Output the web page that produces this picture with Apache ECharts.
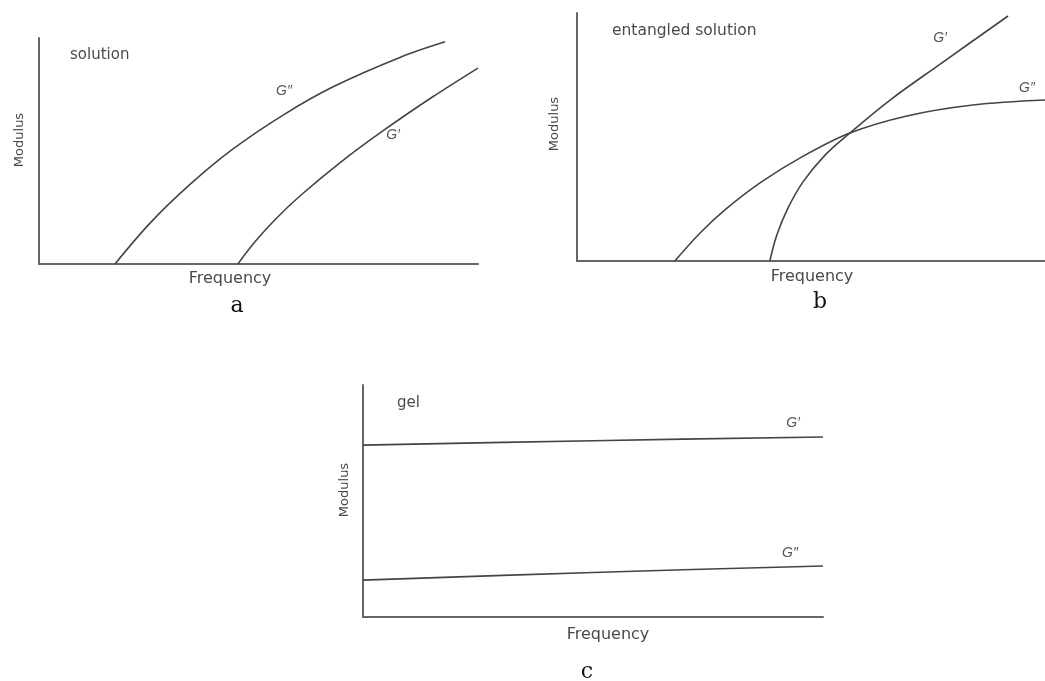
<!DOCTYPE html>
<html>
<head>
<meta charset="utf-8">
<script src="https://cdn.jsdelivr.net/npm/echarts@6/dist/echarts.min.js"></script>
<style>
html,body{margin:0;padding:0;background:#fff;}
#chart{width:1045px;height:681px;}
</style>
</head>
<body>
<div id="chart"></div>
<script>
// Panel a: solution
var solutionGpp = [[17.3,0],[25.3,18.1],[34.4,35.2],[44.2,50.9],[55.6,65.9],[67.0,78.4],[82.2,91.4],[92.5,98.3]];
var solutionGp  = [[45.3,0],[49.2,9.8],[53.8,19.7],[59.5,30.2],[68.6,44.9],[78.4,59.0],[89.7,74.0],[100,86.7]];
// Panel b: entangled solution
var entangledGpp = [[20.9,0],[26.3,11.3],[31.6,20.6],[39.1,31.5],[47.6,41.5],[58.3,51.6],[70.5,58.5],[84.6,62.9],[100,64.9]];
var entangledGp  = [[41.2,0],[42.7,10.5],[45.1,21.4],[48.3,31.9],[53.0,42.7],[58.3,51.6],[66.9,64.9],[77.6,79.4],[92.1,98.8]];
// Panel c: gel
var gelGp  = [[0,74.1],[50,76.0],[100,77.6]];
var gelGpp = [[0,15.9],[50,19.2],[100,22.0]];

var panelTitles = ['solution','entangled solution','gel'];
var panelLetters = ['a','b','c'];
var xName = 'Frequency';
var yName = 'Modulus';

var chart = echarts.init(document.getElementById('chart'));
var axisLine = {show:true, onZero:false, lineStyle:{color:'#666', width:2}};
function xa(i){return {gridIndex:i,type:'value',min:0,max:100,axisLine:axisLine,axisTick:{show:false},axisLabel:{show:false},splitLine:{show:false}};}
function ya(i){return {gridIndex:i,type:'value',min:0,max:100,axisLine:axisLine,axisTick:{show:false},axisLabel:{show:false},splitLine:{show:false}};}
function ln(i,data){return {type:'line',xAxisIndex:i,yAxisIndex:i,data:data,smooth:0.35,symbol:'none',lineStyle:{color:'#444',width:1.6},silent:true};}

var sans = 'DejaVu Sans';
var txtColor = '#4a4a4a';
function t(x,y,text,opts){
  opts = opts||{};
  return {type:'text',x:x,y:y,rotation:opts.rot||0,silent:true,
    style:{text:text,fill:opts.color||txtColor,font:(opts.italic?'italic ':'')+(opts.bold?'bold ':'')+(opts.size||15)+'px '+(opts.family||sans),
      textAlign:opts.align||'center',textVerticalAlign:'middle'}};
}
var G1 = 'G\u2032', G2 = 'G\u2033';
var gi = {italic:true,size:14,family:'Liberation Sans',color:'#555'};
var letter = {size:22,family:'DejaVu Serif',color:'#111'};

chart.setOption({
  animation:false,
  grid:[
    {left:39, top:38, right:567, bottom:417},
    {left:577, top:13, right:0, bottom:420},
    {left:363, top:385, right:222, bottom:64}
  ],
  xAxis:[xa(0),xa(1),xa(2)],
  yAxis:[ya(0),ya(1),ya(2)],
  series:[ln(0,solutionGpp),ln(0,solutionGp),ln(1,entangledGpp),ln(1,entangledGp),ln(2,gelGp),ln(2,gelGpp)],
  graphic:[
    t(70,55,panelTitles[0],{align:'left',size:15}),
    t(612,31,panelTitles[1],{align:'left',size:15.5}),
    t(397,403,panelTitles[2],{align:'left',size:15}),
    t(284,91,G2,gi), t(393,135,G1,gi),
    t(940,38,G1,gi), t(1027,88,G2,gi),
    t(793,423,G1,gi), t(790,553,G2,gi),
    t(20,140,yName,{rot:Math.PI/2,size:13}),
    t(555,124,yName,{rot:Math.PI/2,size:13}),
    t(345,490,yName,{rot:Math.PI/2,size:13}),
    t(230,279,xName,{size:16}),
    t(812,277,xName,{size:16}),
    t(608,635,xName,{size:16}),
    t(237,306,panelLetters[0],letter),
    t(820,302,panelLetters[1],letter),
    t(587,672,panelLetters[2],letter)
  ]
});
</script>
</body>
</html>
